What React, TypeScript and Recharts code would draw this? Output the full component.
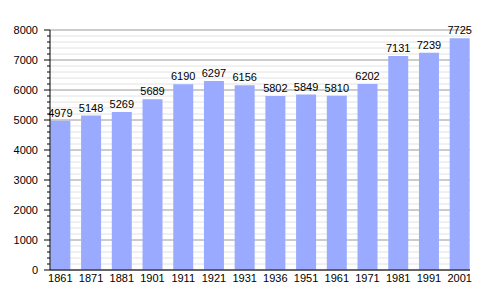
import React from 'react';
import { BarChart, Bar, XAxis, YAxis, CartesianGrid, LabelList } from 'recharts';

const years = ['1861', '1871', '1881', '1901', '1911', '1921', '1931', '1936', '1951', '1961', '1971', '1981', '1991', '2001'];
const population = [4979, 5148, 5269, 5689, 6190, 6297, 6156, 5802, 5849, 5810, 6202, 7131, 7239, 7725];
const majorTicks = [0, 1000, 2000, 3000, 4000, 5000, 6000, 7000, 8000];
const minorTicks = Array.from({ length: 41 }, (_, i) => i * 200);

const data = years.map((year, i) => ({ year, value: population[i] }));

const YTick = (props: any) => {
  const { x, y, payload } = props;
  const v = payload.value as number;
  const major = v % 1000 === 0;
  return (
    <g>
      <line x1={x - (major ? 6 : 3)} x2={x} y1={y} y2={y} stroke="#000" strokeWidth={1} />
      {major && (
        <text x={x - 12} y={y} dy="0.355em" textAnchor="end" fontSize={11} fill="#000" fontFamily="Liberation Sans, Arial, sans-serif">
          {v}
        </text>
      )}
    </g>
  );
};

export default function App() {
  return (
    <div style={{ position: 'absolute', left: 0, top: 0, background: '#fff' }}>
      <BarChart
        width={500}
        height={300}
        data={data}
        margin={{ top: 30, right: 30, left: 0, bottom: 0 }}
        barCategoryGap="17.5%"
        style={{ fontFamily: 'Liberation Sans, Arial, sans-serif' }}
      >
        <CartesianGrid vertical={false} horizontalValues={minorTicks} stroke="#e2e2e2" />
        <CartesianGrid vertical={false} horizontalValues={majorTicks} stroke="#a8a8a8" />
        <XAxis
          dataKey="year"
          height={30}
          padding={{ left: -5, right: -5 }}
          tickLine={false}
          tickSize={0}
          tickMargin={4}
          axisLine={{ stroke: '#000' }}
          tick={{ fontSize: 11, fill: '#000' }}
          interval={0}
        />
        <YAxis
          width={50}
          domain={[0, 8000]}
          ticks={minorTicks}
          interval={0}
          tickLine={false}
          tickSize={0}
          tickMargin={0}
          axisLine={{ stroke: '#000' }}
          tick={<YTick />}
        />
        <Bar dataKey="value" fill="#9aabff" isAnimationActive={false}>
          <LabelList dataKey="value" position="top" offset={4} fontSize={11} fill="#000" />
        </Bar>
      </BarChart>
    </div>
  );
}
